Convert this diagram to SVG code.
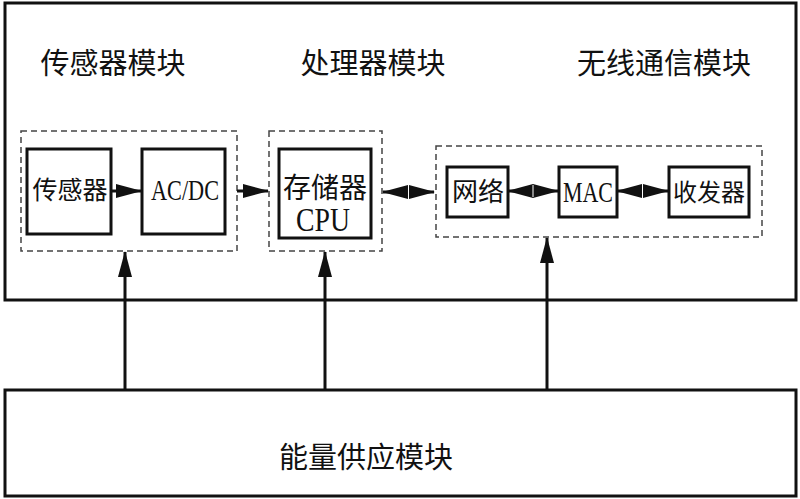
<svg xmlns="http://www.w3.org/2000/svg" width="800" height="499" viewBox="0 0 800 499">
<style>
.solid{fill:#fff;stroke:#111;stroke-width:3}
.dash{fill:none;stroke:#444;stroke-width:1.5;stroke-dasharray:6 4}
.cjk{font-family:"Liberation Serif","Noto Sans CJK SC",serif;fill:#111}
.lat{font-family:"Liberation Serif","Noto Sans CJK SC",serif;fill:#111}
.conn{stroke:#111;stroke-width:3;fill:none}
</style>
<defs>
<marker id="ah" markerUnits="userSpaceOnUse" markerWidth="26" markerHeight="14" refX="25" refY="7" orient="auto-start-reverse" viewBox="0 0 26 14">
<path d="M0,0 L26,7 L0,14 z" fill="#111"/>
</marker>
</defs>
<rect width="800" height="499" fill="#fff"/>
<g id="top-frame">
<rect class="solid" x="5" y="3" width="791" height="297"/>
<text class="cjk" x="113" y="74" font-size="29" text-anchor="middle">传感器模块</text>
<text class="cjk" x="373" y="74" font-size="29" text-anchor="middle">处理器模块</text>
<text class="cjk" x="664" y="74" font-size="29" text-anchor="middle">无线通信模块</text>
</g>
<g id="sensor-module">
<rect class="dash" x="21" y="131" width="216" height="120"/>
</g>
<g id="sensor">
<rect class="solid" x="27" y="149" width="84" height="85"/>
<text class="cjk" x="70" y="199" font-size="25" text-anchor="middle">传感器</text>
</g>
<g id="acdc">
<rect class="solid" x="142" y="149" width="83" height="85"/>
<text class="lat" x="185" y="200" font-size="29" text-anchor="middle" textLength="68" lengthAdjust="spacingAndGlyphs">AC/DC</text>
</g>
<g id="processor-module">
<rect class="dash" x="269" y="131" width="113" height="120"/>
</g>
<g id="storage-cpu">
<rect class="solid" x="279" y="149" width="92" height="89"/>
<text class="cjk" x="325" y="198" font-size="28" text-anchor="middle">存储器</text>
<text class="lat" x="323" y="231" font-size="33" text-anchor="middle" textLength="54" lengthAdjust="spacingAndGlyphs">CPU</text>
</g>
<g id="wireless-module">
<rect class="dash" x="436" y="146" width="326" height="91"/>
</g>
<g id="network">
<rect class="solid" x="447" y="167" width="61" height="50"/>
<text class="cjk" x="478" y="201" font-size="26" text-anchor="middle">网络</text>
</g>
<g id="mac">
<rect class="solid" x="559" y="167" width="58" height="50"/>
<text class="lat" x="588" y="202" font-size="30" text-anchor="middle" textLength="50" lengthAdjust="spacingAndGlyphs">MAC</text>
</g>
<g id="transceiver">
<rect class="solid" x="669" y="167" width="80" height="50"/>
<text class="cjk" x="709" y="201" font-size="24" text-anchor="middle">收发器</text>
</g>
<g id="energy">
<rect class="solid" x="5" y="390" width="791" height="106"/>
<text class="cjk" x="366" y="468" font-size="29" text-anchor="middle">能量供应模块</text>
</g>
<g id="connectors">
<line class="conn" x1="111" y1="191" x2="141" y2="191" marker-end="url(#ah)"/>
<line class="conn" x1="237" y1="191" x2="268" y2="191" marker-end="url(#ah)"/>
<line class="conn" x1="383" y1="192" x2="434" y2="192" marker-start="url(#ah)" marker-end="url(#ah)"/>
<line class="conn" x1="508" y1="191" x2="558" y2="191" marker-start="url(#ah)" marker-end="url(#ah)"/>
<line class="conn" x1="617" y1="191" x2="668" y2="191" marker-start="url(#ah)" marker-end="url(#ah)"/>
<line x1="408.5" y1="186" x2="408.5" y2="198" stroke="#fff" stroke-width="1"/>
<line x1="533" y1="185" x2="533" y2="197" stroke="#fff" stroke-width="1"/>
<line x1="642.5" y1="185" x2="642.5" y2="197" stroke="#fff" stroke-width="1"/>
<line class="conn" x1="125" y1="390" x2="125" y2="252" marker-end="url(#ah)"/>
<line class="conn" x1="325" y1="390" x2="325" y2="252" marker-end="url(#ah)"/>
<line class="conn" x1="547" y1="390" x2="547" y2="238" marker-end="url(#ah)"/>
</g>
</svg>
